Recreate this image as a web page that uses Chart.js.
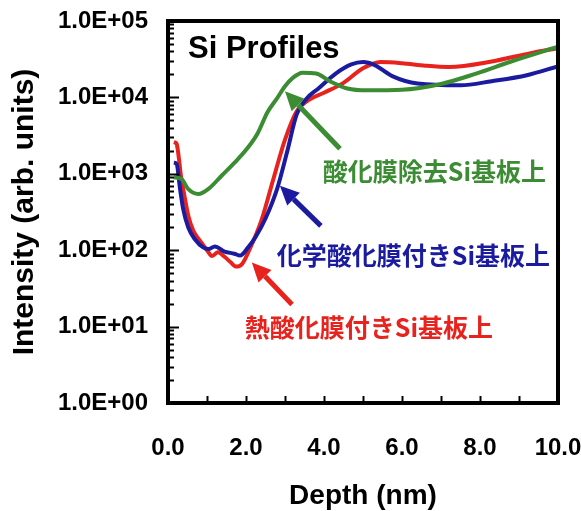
<!DOCTYPE html>
<html>
<head>
<meta charset="utf-8">
<script src="https://cdn.jsdelivr.net/npm/chart.js@4.4.1/dist/chart.umd.min.js"></script>
<style>
  html, body { margin: 0; padding: 0; background: #ffffff; }
  #wrap { width: 581px; height: 511px; position: relative; }
</style>
</head>
<body>
<div id="wrap"><canvas id="siChart"></canvas></div>
<script>
// depth (nm) / intensity values
const greenDepth = [0.15, 0.35, 0.52, 0.78, 1.03, 1.38, 1.72, 2.06, 2.3, 2.55, 2.8, 3.0, 3.2, 3.45, 3.8, 4.15, 4.6, 5.1, 6.0, 7.0, 7.9, 8.8, 10.0];
const greenIntensity = [900, 850, 630, 545, 630, 950, 1420, 2240, 3400, 6400, 9800, 14000, 18000, 21000, 20500, 16300, 13100, 12400, 12600, 15000, 20500, 29500, 46000];

const blueDepth = [0.15, 0.22, 0.31, 0.39, 0.52, 0.69, 0.9, 1.05, 1.2, 1.45, 1.7, 1.85, 2.05, 2.25, 2.5, 2.8, 3.05, 3.3, 3.55, 3.85, 4.3, 4.7, 5.0, 5.3, 5.75, 6.4, 7.5, 8.3, 9.2, 10.0];
const blueIntensity = [1400, 1350, 630, 345, 198, 139, 109, 104, 112, 96, 90, 85, 108, 150, 260, 640, 1900, 6000, 9600, 13000, 20500, 27000, 29000, 26500, 19000, 15200, 14400, 16300, 19500, 25500];

const redDepth = [0.15, 0.22, 0.27, 0.33, 0.42, 0.52, 0.65, 0.82, 1.0, 1.13, 1.28, 1.45, 1.6, 1.75, 1.9, 2.1, 2.4, 2.7, 3.0, 3.3, 3.6, 4.0, 4.5, 5.0, 5.45, 6.0, 6.6, 7.2, 8.3, 9.3, 10.0];
const redIntensity = [2600, 2470, 1740, 950, 520, 283, 180, 133, 100, 84, 94, 82, 70, 61, 66, 105, 250, 850, 2800, 6600, 9200, 11500, 15500, 24000, 29000, 28000, 26000, 25000, 29500, 38000, 44000];

const xTickValues = [0, 2, 4, 6, 8, 10];
const yTickValues = [1, 10, 100, 1000, 10000, 100000];

const seriesLabels = ['酸化膜除去Si基板上', '化学酸化膜付きSi基板上', '熱酸化膜付きSi基板上'];

const GREEN = '#3b8c33';
const BLUE = '#1b1ba0';
const RED = '#e8231d';

// annotation anchors in data units: [depth, intensity]
const noteAnchors = [[3.97, 1070], [2.79, 86], [1.97, 9.7]];
const arrowTails = [[4.41, 2130], [3.92, 208], [3.18, 19.5]];
const arrowTips = [[3.0, 12000], [2.87, 695], [2.15, 69]];
const noteColors = [GREEN, BLUE, RED];

function toPoints(xs, ys) {
  return xs.map((x, i) => ({ x: x, y: ys[i] }));
}

function formatSci(value) {
  const exp = Math.round(Math.log10(value));
  return '1.0E+' + String(exp).padStart(2, '0');
}

function drawArrow(ctx, x0, y0, x1, y1, color) {
  const ang = Math.atan2(y1 - y0, x1 - x0);
  const headLen = 19;
  const headHalf = 9;
  const bx = x1 - headLen * Math.cos(ang);
  const by = y1 - headLen * Math.sin(ang);
  ctx.save();
  ctx.strokeStyle = color;
  ctx.fillStyle = color;
  ctx.lineWidth = 5;
  ctx.beginPath();
  ctx.moveTo(x0, y0);
  ctx.lineTo(bx, by);
  ctx.stroke();
  ctx.beginPath();
  ctx.moveTo(x1, y1);
  ctx.lineTo(bx + headHalf * Math.sin(ang), by - headHalf * Math.cos(ang));
  ctx.lineTo(bx - headHalf * Math.sin(ang), by + headHalf * Math.cos(ang));
  ctx.closePath();
  ctx.fill();
  ctx.restore();
}

const frameAndNotes = {
  id: 'frameAndNotes',
  afterDatasetsDraw(chart) {
    const ctx = chart.ctx;
    const area = chart.chartArea;
    const xs = chart.scales.x;
    const ys = chart.scales.y;

    ctx.save();
    // inward ticks on the left axis (log minors + decades)
    ctx.strokeStyle = '#000';
    ctx.lineWidth = 2;
    for (let e = 0; e < 5; e += 1) {
      for (let m = 1; m <= 9; m += 1) {
        const v = m * Math.pow(10, e);
        if (m === 1 && e === 0) continue;
        const py = Math.round(ys.getPixelForValue(v)) + 0.5;
        const len = m === 1 ? 11 : 6;
        ctx.beginPath();
        ctx.moveTo(area.left, py);
        ctx.lineTo(area.left + len, py);
        ctx.stroke();
      }
    }
    // inward ticks on the bottom axis, every 1 nm
    for (let d = 1; d < 10; d += 1) {
      const px = Math.round(xs.getPixelForValue(d)) + 0.5;
      ctx.beginPath();
      ctx.moveTo(px, area.bottom);
      ctx.lineTo(px, area.bottom - 7);
      ctx.stroke();
    }
    // frame
    ctx.lineWidth = 4;
    ctx.strokeRect(area.left, area.top, area.right - area.left, area.bottom - area.top);

    // panel title
    ctx.fillStyle = '#000';
    ctx.font = 'bold 31px "Liberation Sans", Arial, sans-serif';
    ctx.textAlign = 'left';
    ctx.textBaseline = 'alphabetic';
    ctx.fillText('Si Profiles', area.left + 20, area.top + 37);

    // arrows and labels
    for (let i = 0; i < seriesLabels.length; i += 1) {
      const tail = arrowTails[i];
      const tip = arrowTips[i];
      drawArrow(ctx,
        xs.getPixelForValue(tail[0]), ys.getPixelForValue(tail[1]),
        xs.getPixelForValue(tip[0]), ys.getPixelForValue(tip[1]),
        noteColors[i]);
      ctx.fillStyle = noteColors[i];
      ctx.font = 'bold 25px "Noto Sans CJK JP", sans-serif';
      ctx.textBaseline = 'middle';
      ctx.fillText(seriesLabels[i], xs.getPixelForValue(noteAnchors[i][0]), ys.getPixelForValue(noteAnchors[i][1]));
    }
    ctx.restore();
  }
};

const lineStyle = {
  borderWidth: 4,
  pointRadius: 0,
  fill: false,
  cubicInterpolationMode: 'monotone'
};

new Chart(document.getElementById('siChart'), {
  type: 'line',
  data: {
    datasets: [
      Object.assign({ label: seriesLabels[0], data: toPoints(greenDepth, greenIntensity), borderColor: GREEN }, lineStyle),
      Object.assign({ label: seriesLabels[1], data: toPoints(blueDepth, blueIntensity), borderColor: BLUE }, lineStyle),
      Object.assign({ label: seriesLabels[2], data: toPoints(redDepth, redIntensity), borderColor: RED }, lineStyle)
    ]
  },
  options: {
    responsive: true,
    maintainAspectRatio: false,
    animation: false,
    layout: { padding: { top: 21, right: 23, left: 0, bottom: 0 } },
    plugins: {
      legend: { display: false },
      tooltip: { enabled: false }
    },
    scales: {
      x: {
        type: 'linear',
        min: 0,
        max: 10,
        grid: { display: false, drawTicks: false },
        border: { display: false },
        afterBuildTicks(scale) {
          scale.ticks = xTickValues.map((v) => ({ value: v }));
        },
        afterFit(scale) {
          scale.height = 108;
          scale.paddingLeft = 0;
          scale.paddingRight = 0;
        },
        ticks: {
          padding: 31,
          color: '#000',
          font: { family: '"Liberation Sans", Arial, sans-serif', size: 24, weight: 'bold' },
          callback: (v) => Number(v).toFixed(1)
        },
        title: {
          display: true,
          text: 'Depth (nm)',
          color: '#000',
          font: { family: '"Liberation Sans", Arial, sans-serif', size: 28, weight: 'bold', lineHeight: 1 },
          padding: { top: 0, bottom: 1 }
        }
      },
      y: {
        type: 'logarithmic',
        min: 1,
        max: 100000,
        grid: { display: false, drawTicks: false },
        border: { display: false },
        afterBuildTicks(scale) {
          scale.ticks = yTickValues.map((v) => ({ value: v }));
        },
        afterFit(scale) {
          scale.width = 168;
          scale.paddingTop = 0;
          scale.paddingBottom = 0;
        },
        ticks: {
          padding: 20,
          color: '#000',
          font: { family: '"Liberation Sans", Arial, sans-serif', size: 24, weight: 'bold' },
          callback: (v) => formatSci(v)
        },
        title: {
          display: true,
          text: 'Intensity (arb. units)',
          color: '#000',
          font: { family: '"Liberation Sans", Arial, sans-serif', size: 30, weight: 'bold', lineHeight: 1.2 },
          padding: { top: 7, bottom: 0 }
        }
      }
    }
  },
  plugins: [frameAndNotes]
});
</script>
</body>
</html>
